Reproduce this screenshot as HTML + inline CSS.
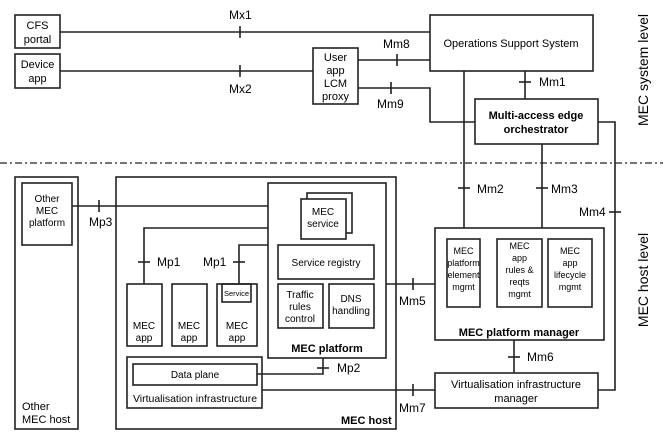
<!DOCTYPE html>
<html><head><meta charset="utf-8"><style>
html,body{margin:0;padding:0;background:#fff;}
svg{display:block;font-family:"Liberation Sans",Arial,sans-serif;}
text{fill:#000;}
</style></head><body>
<svg width="663" height="437" viewBox="0 0 663 437" xmlns="http://www.w3.org/2000/svg">
<g fill="none" stroke="#222" stroke-width="1.6">
<rect x="15" y="15" width="45" height="33"/>
<rect x="15" y="54" width="45" height="34"/>
<rect x="430" y="15" width="163" height="56"/>
<rect x="313" y="48" width="45" height="56"/>
<rect x="475" y="99" width="123" height="45"/>
<line x1="60" y1="32" x2="430" y2="32"/>
<line x1="240" y1="26" x2="240" y2="38"/>
<line x1="60" y1="71" x2="313" y2="71"/>
<line x1="240" y1="65" x2="240" y2="77"/>
<line x1="358" y1="60" x2="430" y2="60"/>
<line x1="397" y1="54" x2="397" y2="66"/>
<polyline points="358,88 430,88 430,122 475,122"/>
<line x1="391" y1="82" x2="391" y2="94"/>
<line x1="525" y1="71" x2="525" y2="99"/>
<line x1="519" y1="82" x2="531" y2="82"/>
<line x1="464" y1="71" x2="464" y2="228"/>
<line x1="542" y1="144" x2="542" y2="228"/>
<polyline points="598,122 615,122 615,390 598,390"/>
<line x1="458" y1="188" x2="470" y2="188"/>
<line x1="536" y1="188" x2="548" y2="188"/>
<line x1="609" y1="212" x2="621" y2="212"/>
<line x1="0" y1="163" x2="663" y2="163" stroke-dasharray="7,3,2,3" stroke-width="1.3"/>
<rect x="15" y="177" width="63" height="252"/>
<rect x="22" y="183" width="50" height="62"/>
<rect x="116" y="177" width="280" height="252"/>
<rect x="268" y="183" width="118" height="175"/>
<rect x="307" y="193" width="45" height="40"/>
<rect x="301" y="199" width="45" height="40" fill="#fff"/>
<rect x="278" y="245" width="96" height="34"/>
<rect x="278" y="284" width="45" height="44"/>
<rect x="329" y="284" width="45" height="44"/>
<rect x="127" y="284" width="35" height="62"/>
<rect x="172" y="284" width="35" height="62"/>
<rect x="217" y="284" width="40" height="62"/>
<rect x="222" y="284" width="29" height="18"/>
<rect x="127" y="357" width="135" height="51"/>
<rect x="133" y="364" width="124" height="21"/>
<line x1="72" y1="206" x2="268" y2="206"/>
<line x1="99" y1="200" x2="99" y2="212"/>
<polyline points="268,228 144,228 144,284"/>
<line x1="138" y1="262" x2="150" y2="262"/>
<polyline points="268,245 239,245 239,284"/>
<line x1="233" y1="262" x2="245" y2="262"/>
<polyline points="257,374 323,374 323,358"/>
<line x1="317" y1="368" x2="329" y2="368"/>
<line x1="262" y1="390" x2="435" y2="390"/>
<line x1="413" y1="384" x2="413" y2="396"/>
<line x1="386" y1="284" x2="435" y2="284"/>
<line x1="413" y1="278" x2="413" y2="290"/>
<rect x="435" y="228" width="169" height="112"/>
<rect x="447" y="239" width="33" height="68"/>
<rect x="497" y="239" width="45" height="68"/>
<rect x="548" y="239" width="44" height="68"/>
<line x1="514" y1="340" x2="514" y2="373"/>
<line x1="508" y1="357" x2="520" y2="357"/>
<rect x="435" y="373" width="163" height="35"/>
</g>
<g font-size="11" text-anchor="middle">
<text x="37.5" y="29">CFS</text><text x="37.5" y="43">portal</text>
<text x="37.5" y="68">Device</text><text x="37.5" y="82">app</text>
<text x="511" y="47">Operations Support System</text>
<text x="335.5" y="61">User</text><text x="335.5" y="74">app</text><text x="335.5" y="87">LCM</text><text x="335.5" y="100">proxy</text>
<text x="536" y="119" font-weight="bold">Multi-access edge</text>
<text x="536" y="133" font-weight="bold">orchestrator</text>
<text x="47" y="202" font-size="10">Other</text><text x="47" y="214" font-size="10">MEC</text><text x="47" y="226" font-size="10">platform</text>
<text x="323" y="215" font-size="10">MEC</text><text x="323" y="227" font-size="10">service</text>
<text x="326" y="266" font-size="10">Service registry</text>
<text x="300" y="298" font-size="10">Traffic</text><text x="300" y="310" font-size="10">rules</text><text x="300" y="322" font-size="10">control</text>
<text x="351" y="302" font-size="10">DNS</text><text x="351" y="314" font-size="10">handling</text>
<text x="144" y="329" font-size="10">MEC</text><text x="144" y="341" font-size="10">app</text>
<text x="189" y="329" font-size="10">MEC</text><text x="189" y="341" font-size="10">app</text>
<text x="237" y="329" font-size="10">MEC</text><text x="237" y="341" font-size="10">app</text>
<text x="236.5" y="296" font-size="7.5">Service</text>
<text x="327" y="352" font-weight="bold">MEC platform</text>
<text x="195" y="378" font-size="10">Data plane</text>
<text x="195" y="402" font-size="10.5">Virtualisation infrastructure</text>
<g font-size="9">
<text x="463.5" y="254">MEC</text><text x="463.5" y="266">platform</text><text x="463.5" y="278">element</text><text x="463.5" y="290">mgmt</text>
<text x="519.5" y="249">MEC</text><text x="519.5" y="261">app</text><text x="519.5" y="273">rules &amp;</text><text x="519.5" y="285">reqts</text><text x="519.5" y="297">mgmt</text>
<text x="570" y="254">MEC</text><text x="570" y="266">app</text><text x="570" y="278">lifecycle</text><text x="570" y="290">mgmt</text>
</g>
<text x="519" y="336" font-weight="bold">MEC platform manager</text>
<text x="516" y="388">Virtualisation infrastructure</text>
<text x="516" y="402">manager</text>
</g>
<g font-size="12">
<text x="229" y="19">Mx1</text>
<text x="229" y="93">Mx2</text>
<text x="383" y="48">Mm8</text>
<text x="377" y="108">Mm9</text>
<text x="539" y="86">Mm1</text>
<text x="477" y="193">Mm2</text>
<text x="551" y="193">Mm3</text>
<text x="579" y="216">Mm4</text>
<text x="399" y="305">Mm5</text>
<text x="527" y="361">Mm6</text>
<text x="399" y="412">Mm7</text>
<text x="89" y="226">Mp3</text>
<text x="157" y="266">Mp1</text>
<text x="203" y="266">Mp1</text>
<text x="337" y="372">Mp2</text>
<text x="22" y="410" font-size="11">Other</text>
<text x="22" y="423" font-size="11">MEC host</text>
<text x="341" y="424" font-size="11" font-weight="bold">MEC host</text>
</g>
<g font-size="14" text-anchor="middle">
<text transform="translate(648,70) rotate(-90)">MEC system level</text>
<text transform="translate(648,280) rotate(-90)">MEC host level</text>
</g>
</svg>
</body></html>
